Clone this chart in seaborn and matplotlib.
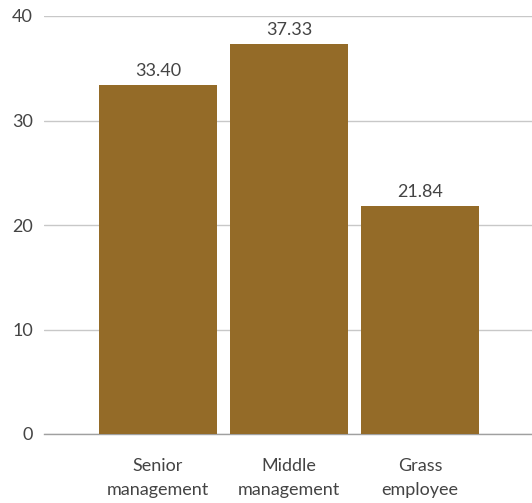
import matplotlib
matplotlib.use("Agg")
import matplotlib.pyplot as plt
import seaborn as sns
import pandas as pd

categories = ["Senior\nmanagement", "Middle\nmanagement", "Grass\nemployee"]
values = [33.40, 37.33, 21.84]
y_ticks = [0, 10, 20, 30, 40]

sns.set_theme(style="white")
plt.rcParams["font.family"] = ["Lato", "DejaVu Sans"]

bar_color = "#946b28"
text_color = "#444444"

df = pd.DataFrame({"group": categories, "value": values})

fig = plt.figure(figsize=(5.32, 5.03), dpi=100)
ax = fig.add_axes([44 / 532, 69 / 503, 488 / 532, 418 / 503])

sns.barplot(data=df, x="group", y="value", color=bar_color, width=0.9,
            saturation=1, linewidth=0, ax=ax, zorder=3)

ax.set_xlim(-0.87, 2.855)
ax.set_ylim(0, 40)
ax.set_yticks(y_ticks)
ax.yaxis.grid(True, color="#c8c8c8", linewidth=1, zorder=0)
ax.set_axisbelow(True)

for side in ["left", "right", "top"]:
    ax.spines[side].set_visible(False)
ax.spines["bottom"].set_color("#a0a0a0")
ax.spines["bottom"].set_linewidth(1)

ax.set_xlabel("")
ax.set_ylabel("")
ax.tick_params(axis="both", length=0, labelsize=13, colors=text_color)
ax.tick_params(axis="x", pad=17)
ax.tick_params(axis="y", pad=8)
for lbl in ax.get_xticklabels():
    lbl.set_linespacing(1.65)

for cont in ax.containers:
    ax.bar_label(cont, labels=[f"{v:.2f}" for v in values], padding=4,
                 fontsize=13, color=text_color)

fig.savefig("out.png", dpi=100)
